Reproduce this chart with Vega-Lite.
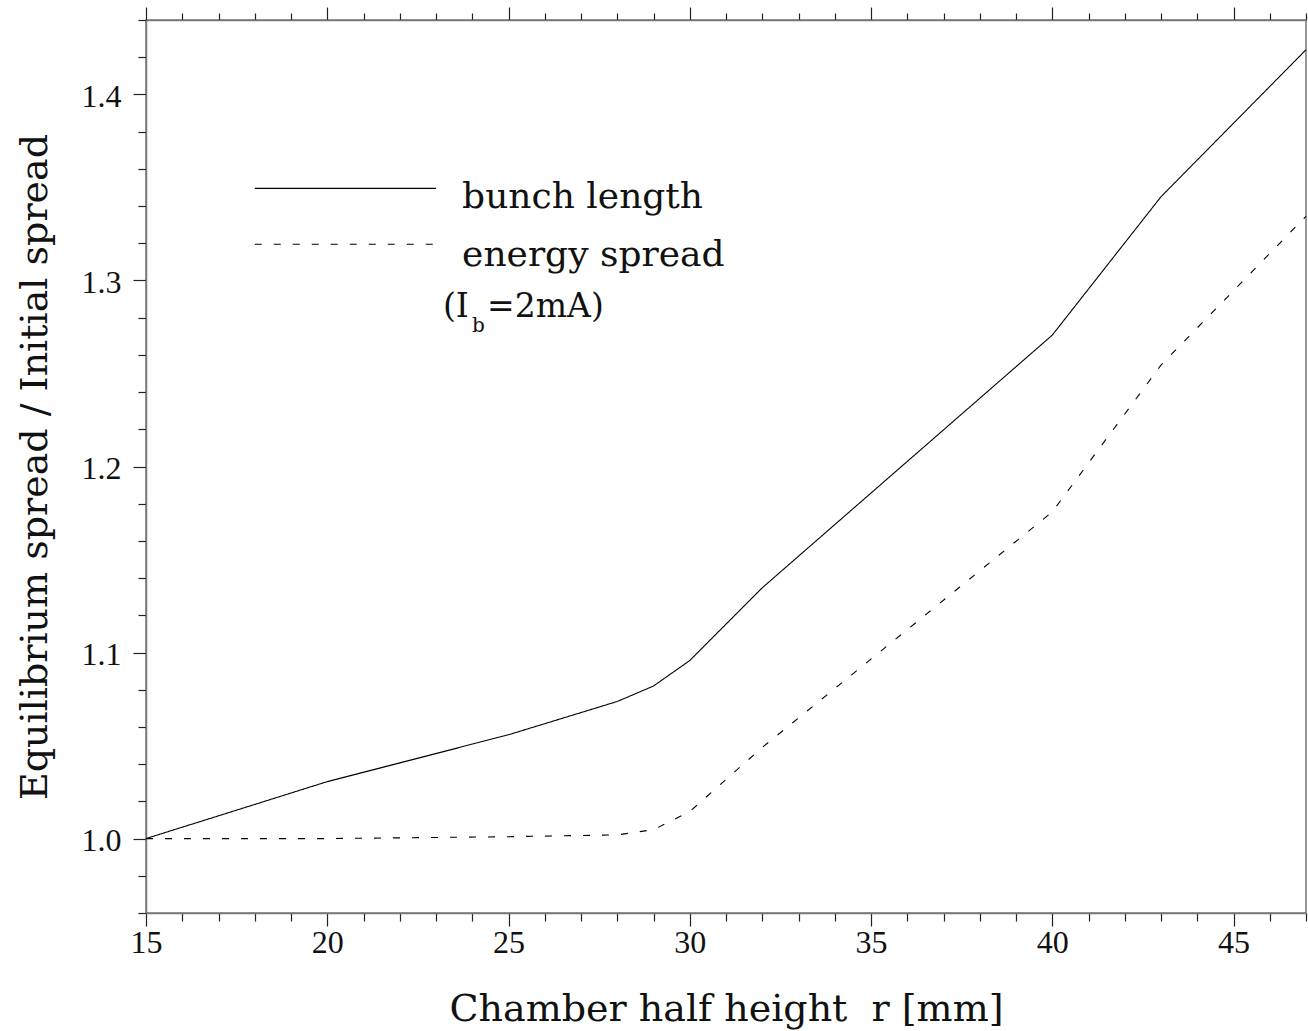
{
  "$schema": "https://vega.github.io/schema/vega-lite/v6.json",
  "width": 1160,
  "height": 893,
  "autosize": {"type": "none"},
  "padding": {"left": 146, "top": 20, "right": 2, "bottom": 118},
  "background": "white",
  "config": {
    "view": {"stroke": "#777", "strokeWidth": 1.5},
    "axis": {"grid": false, "domainColor": "#777", "domainWidth": 1.5, "tickColor": "#222", "tickWidth": 1.2, "labelFont": "Liberation Serif", "labelFontSize": 32, "labelColor": "#111", "titleFont": "DejaVu Serif", "titleFontWeight": "normal", "titleFontSize": 38, "titleColor": "#111"}
  },
  "datasets": {
    "curves": [
      {"r": 15, "ratio": 1.0, "series": "bunch length"},
      {"r": 20, "ratio": 1.0306, "series": "bunch length"},
      {"r": 25, "ratio": 1.0558, "series": "bunch length"},
      {"r": 28, "ratio": 1.0737, "series": "bunch length"},
      {"r": 29, "ratio": 1.082, "series": "bunch length"},
      {"r": 30, "ratio": 1.0957, "series": "bunch length"},
      {"r": 32, "ratio": 1.1348, "series": "bunch length"},
      {"r": 40, "ratio": 1.2706, "series": "bunch length"},
      {"r": 43, "ratio": 1.345, "series": "bunch length"},
      {"r": 47, "ratio": 1.424, "series": "bunch length"},
      {"r": 15, "ratio": 1.0, "series": "energy spread"},
      {"r": 20, "ratio": 1.0, "series": "energy spread"},
      {"r": 25, "ratio": 1.001, "series": "energy spread"},
      {"r": 28, "ratio": 1.002, "series": "energy spread"},
      {"r": 29, "ratio": 1.0048, "series": "energy spread"},
      {"r": 30, "ratio": 1.0145, "series": "energy spread"},
      {"r": 32, "ratio": 1.049, "series": "energy spread"},
      {"r": 40, "ratio": 1.1756, "series": "energy spread"},
      {"r": 43, "ratio": 1.2545, "series": "energy spread"},
      {"r": 47, "ratio": 1.3345, "series": "energy spread"}
    ],
    "legendLines": [
      {"r": 18.0, "ratio": 1.3495, "series": "bunch length"},
      {"r": 23.0, "ratio": 1.3495, "series": "bunch length"},
      {"r": 18.0, "ratio": 1.3195, "series": "energy spread"},
      {"r": 23.0, "ratio": 1.3195, "series": "energy spread"}
    ],
    "legendText": [
      {"r": 23.72, "ratio": 1.3388, "text": "bunch length"},
      {"r": 23.72, "ratio": 1.3077, "text": "energy spread"}
    ],
    "noteText": [
      {"r": 23.19, "ratio": 1.2803, "text": "(I"},
      {"r": 24.41, "ratio": 1.2803, "text": "=2mA)"}
    ],
    "noteSub": [
      {"r": 23.99, "ratio": 1.2722, "text": "b"}
    ]
  },
  "resolve": {"scale": {"x": "shared", "y": "shared"}, "axis": {"x": "independent", "y": "independent"}},
  "layer": [
    {
      "data": {"name": "curves"},
      "mark": {"type": "line", "color": "#000", "strokeWidth": 1.1},
      "encoding": {
        "x": {
          "field": "r", "type": "quantitative",
          "scale": {"domain": [15, 47], "nice": false, "zero": false},
          "axis": {
            "orient": "bottom",
            "title": "Chamber half height\u00a0\u00a0r [mm]",
            "titleY": 107, "titleBaseline": "alphabetic",
            "values": [15,16,17,18,19,20,21,22,23,24,25,26,27,28,29,30,31,32,33,34,35,36,37,38,39,40,41,42,43,44,45,46,47],
            "tickSize": {"condition": {"test": "datum.value % 5 === 0", "value": 13}, "value": 8},
            "labelExpr": "datum.value % 5 === 0 ? datum.label : ''",
            "labelPadding": 1,
            "labelFlush": false,
            "labelOverlap": false
          }
        },
        "y": {
          "field": "ratio", "type": "quantitative",
          "scale": {"domain": [0.96, 1.44], "nice": false, "zero": false},
          "axis": {
            "orient": "left",
            "title": "Equilibrium spread\u00a0/\u00a0Initial spread",
            "titleX": -100, "titleBaseline": "alphabetic",
            "values": [0.96,0.98,1.0,1.02,1.04,1.06,1.08,1.1,1.12,1.14,1.16,1.18,1.2,1.22,1.24,1.26,1.28,1.3,1.32,1.34,1.36,1.38,1.4,1.42,1.44],
            "tickSize": {"condition": {"test": "abs(datum.value*10 - round(datum.value*10)) < 0.001", "value": 13}, "value": 8},
            "labelExpr": "abs(datum.value*10 - round(datum.value*10)) < 0.001 ? format(datum.value, '.1f') : ''",
            "labelPadding": 12,
            "labelOffset": 2,
            "labelFlush": false,
            "labelOverlap": false
          }
        },
        "strokeDash": {
          "field": "series", "type": "nominal",
          "scale": {"domain": ["bunch length", "energy spread"], "range": [[1, 0], [7, 12]]},
          "legend": null
        }
      }
    },
    {
      "data": {"name": "legendLines"},
      "mark": {"type": "line", "color": "#000", "strokeWidth": 1.1},
      "encoding": {
        "x": {
          "field": "r", "type": "quantitative",
          "axis": {
            "orient": "top",
            "title": null,
            "labels": false,
            "values": [15,16,17,18,19,20,21,22,23,24,25,26,27,28,29,30,31,32,33,34,35,36,37,38,39,40,41,42,43,44,45,46,47],
            "tickSize": {"condition": {"test": "datum.value % 5 === 0", "value": 13}, "value": 7}
          }
        },
        "y": {"field": "ratio", "type": "quantitative", "axis": null},
        "strokeDash": {"field": "series", "type": "nominal", "legend": null}
      }
    },
    {
      "data": {"name": "legendText"},
      "mark": {"type": "text", "align": "left", "baseline": "alphabetic", "font": "DejaVu Serif", "fontSize": 36, "color": "#111"},
      "encoding": {
        "x": {"field": "r", "type": "quantitative", "axis": null},
        "y": {"field": "ratio", "type": "quantitative", "axis": null},
        "text": {"field": "text"}
      }
    },
    {
      "data": {"name": "noteText"},
      "mark": {"type": "text", "align": "left", "baseline": "alphabetic", "font": "DejaVu Serif", "fontSize": 33, "color": "#111"},
      "encoding": {
        "x": {"field": "r", "type": "quantitative", "axis": null},
        "y": {"field": "ratio", "type": "quantitative", "axis": null},
        "text": {"field": "text"}
      }
    },
    {
      "data": {"name": "noteSub"},
      "mark": {"type": "text", "align": "left", "baseline": "alphabetic", "font": "DejaVu Serif", "fontSize": 20, "color": "#111"},
      "encoding": {
        "x": {"field": "r", "type": "quantitative", "axis": null},
        "y": {"field": "ratio", "type": "quantitative", "axis": null},
        "text": {"field": "text"}
      }
    }
  ]
}
